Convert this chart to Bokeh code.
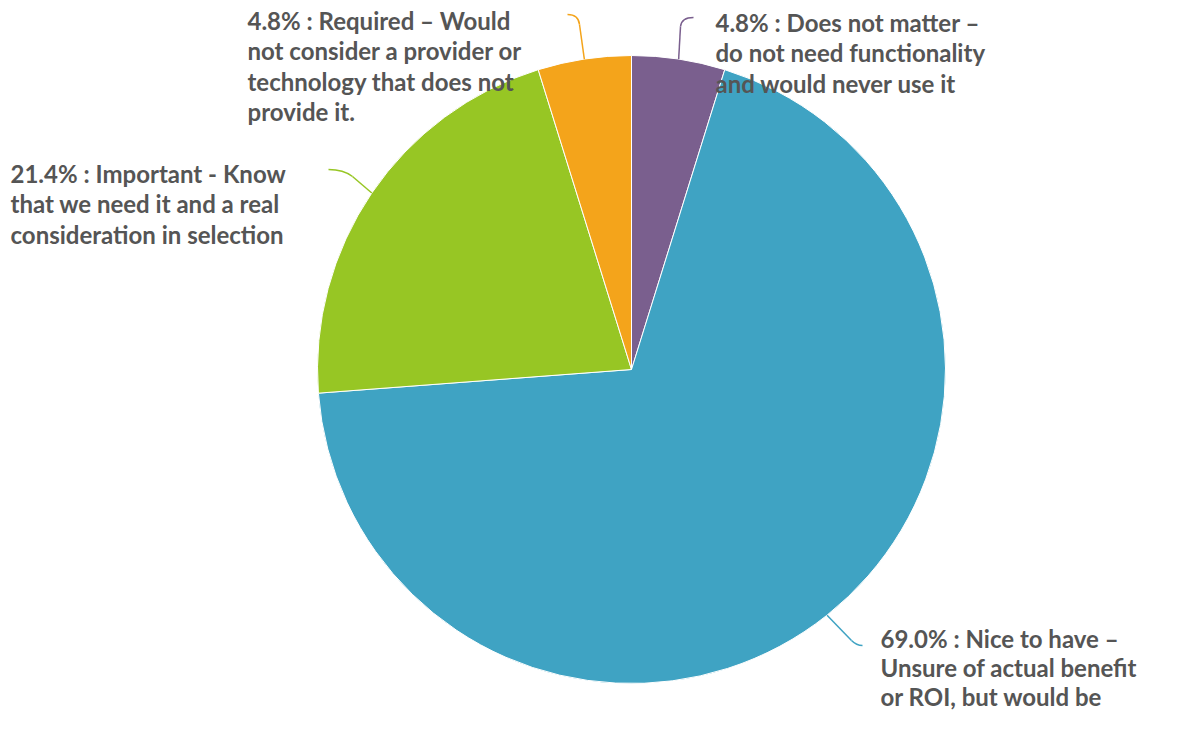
import numpy as np
from bokeh.plotting import figure
from bokeh.models import Range1d
from bokeh.core.properties import value
from bokeh.embed import file_html
from bokeh.resources import INLINE

# ---- data ----
categories = ["Does not matter", "Nice to have", "Important", "Required"]
shares = [4.8, 69.0, 21.4, 4.8]
colors = ["#7a5f8e", "#3fa3c3", "#97c624", "#f4a41b"]
label_lines = [
    ["4.8% : Does not matter –", "do not need functionality", "and would never use it"],
    ["69.0% : Nice to have –", "Unsure of actual benefit", "or ROI, but would be"],
    ["21.4% : Important - Know", "that we need it and a real", "consideration in selection"],
    ["4.8% : Required – Would", "not consider a provider or", "technology that does not", "provide it."],
]

W, H = 1170, 717

def yd(y):  # picture pixel y -> data y
    return H - y

p = figure(width=W, height=H, output_backend="svg", toolbar_location=None,
           x_range=Range1d(0, W), y_range=Range1d(0, H), min_border=0)
p.axis.visible = False
p.grid.visible = False
p.outline_line_color = None
p.background_fill_color = "white"

cx, cy, R = 631, yd(369), 314
frac = np.array(shares) / np.sum(shares)
cum = np.concatenate([[0], np.cumsum(frac)])
starts = np.pi / 2 - 2 * np.pi * cum[:-1]
ends = np.pi / 2 - 2 * np.pi * cum[1:]
mids = (starts + ends) / 2

p.wedge(x=cx, y=cy, radius=R, radius_units="screen", start_angle=list(starts),
        end_angle=list(ends), direction="clock", fill_color=colors,
        line_color="white", line_width=1)

# leader lines: (bend point, control point, end point) in picture px
leaders = [
    ((680, 26), (681, 17), (693, 17)),
    ((851, 640), (856, 645), (862, 645)),
    ((352, 176), (343, 169), (328, 169)),
    ((579, 24), (578, 14), (567, 14)),
]
for i, (b, c, e) in enumerate(leaders):
    ex = cx + R * np.cos(mids[i])
    ey = cy + R * np.sin(mids[i])
    p.line([ex, b[0]], [ey, yd(b[1])], line_color=colors[i], line_width=1.5)
    p.quadratic(x0=b[0], y0=yd(b[1]), cx=c[0], cy=yd(c[1]), x1=e[0], y1=yd(e[1]),
                line_color=colors[i], line_width=1.5)

# label anchors (left x, first line y) in picture px, with line spacing
anchors = [(715, 22, 30.3), (880, 638, 29.0), (10, 173, 30.3), (247, 20, 30.3)]
xs, ys, ts = [], [], []
for (ax, ay, sp), lines in zip(anchors, label_lines):
    for k, t in enumerate(lines):
        xs.append(ax)
        ys.append(yd(ay + k * sp))
        ts.append(t)
p.text(x=xs, y=ys, text=ts, text_font=value("Lato"), text_font_style="bold",
       text_font_size="24px", text_color="#555555", text_align="left",
       text_baseline="alphabetic")

open("out.html", "w").write(file_html(p, INLINE))
